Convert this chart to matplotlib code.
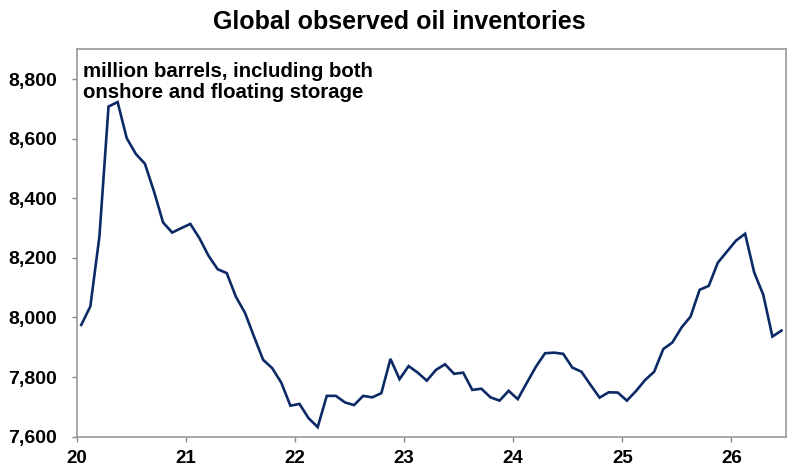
import matplotlib
matplotlib.use("Agg")
import matplotlib.pyplot as plt
import numpy as np

plt.rcParams['font.family'] = ['Liberation Sans', 'DejaVu Sans']

# Monthly observations, Jan 2020 .. Jun 2026 (million barrels)
inventories = [
    7975, 8037, 8272, 8708, 8723, 8602, 8549, 8516, 8423, 8319, 8285, 8300,   # 2020
    8314, 8266, 8207, 8162, 8149, 8070, 8016, 7936, 7858, 7830, 7781, 7704,   # 2021
    7710, 7662, 7632, 7737, 7737, 7715, 7706, 7737, 7732, 7746, 7861, 7793,   # 2022
    7837, 7815, 7788, 7824, 7843, 7811, 7815, 7757, 7761, 7732, 7721, 7754,   # 2023
    7726, 7781, 7835, 7880, 7882, 7878, 7832, 7818, 7774, 7731, 7749, 7748,   # 2024
    7721, 7753, 7790, 7818, 7894, 7916, 7966, 8003, 8093, 8106, 8184, 8221,   # 2025
    8258, 8281, 8151, 8076, 7936, 7956,                                       # 2026
]
start_year = 20
year_labels = ["20", "21", "22", "23", "24", "25", "26"]
y_ticks = [7600, 7800, 8000, 8200, 8400, 8600, 8800]

title = "Global observed oil inventories"
note = "million barrels, including both\nonshore and floating storage"

x = start_year + (np.arange(len(inventories)) + 0.5) / 12.0

fig = plt.figure(figsize=(7.98, 4.76), dpi=100)
ax = fig.add_axes([0.0961, 0.0826, 0.985 - 0.0961, 0.8964 - 0.0826])

ax.plot(x, inventories, color="#0b2a66", linewidth=1.9, solid_joinstyle="miter")

ax.set_xlim(start_year, start_year + 6.5)
ax.set_ylim(7600, 8900)
ax.set_xticks([start_year + i for i in range(len(year_labels))])
ax.set_xticklabels(year_labels)
ax.set_yticks(y_ticks)
ax.set_yticklabels([f"{v:,}" for v in y_ticks])

for lab in ax.get_xticklabels():
    lab.set_fontweight("bold")
    lab.set_fontsize(13.5)
for lab in ax.get_yticklabels():
    lab.set_fontweight("bold")
    lab.set_fontsize(14)

ax.tick_params(axis="both", direction="out", length=3.6, width=1, color="#888888")
ax.tick_params(axis="x", pad=6)
ax.tick_params(axis="y", pad=10.5)
for s in ax.spines.values():
    s.set_color("#999999")
    s.set_linewidth(1.2)

fig.text(0.5, 0.953, title, ha="center", va="center", fontsize=18, fontweight="bold")
ax.text(0.009, 0.968, note, transform=ax.transAxes, ha="left", va="top",
        fontsize=14.7, fontweight="bold", linespacing=1.12)

fig.savefig("out.png", dpi=100)
